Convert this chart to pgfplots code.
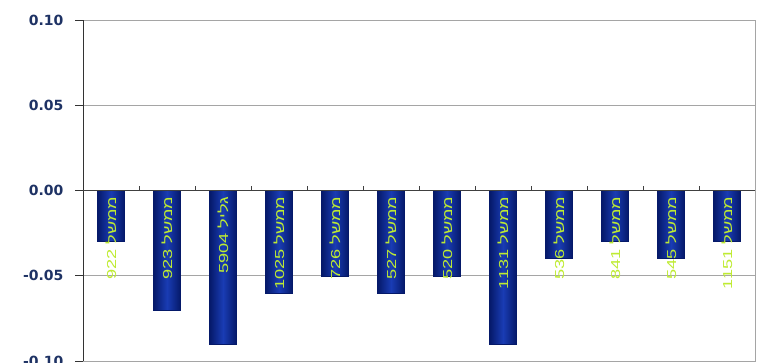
\documentclass[border=0pt]{standalone}
\usepackage{pgfplots}
\pgfplotsset{compat=1.18}
\usepackage{fontspec}
\setmainfont{DejaVu Sans}
\newfontfamily\heb[Script=Hebrew,FakeStretch=1.4]{Liberation Sans}
\TeXXeTstate=1
\definecolor{navy}{RGB}{30,50,100}
\definecolor{barmid}{RGB}{25,60,180}
\definecolor{baredge}{RGB}{5,25,105}
\definecolor{lbl}{RGB}{190,235,50}
\definecolor{gridc}{RGB}{165,165,165}
\begin{document}
\begin{tikzpicture}
\begin{axis}[
  at={(0,0)}, anchor=south west,
  scale only axis, width=672pt, height=341pt,
  xmin=-0.5, xmax=11.5, ymin=-0.1, ymax=0.1,
  ytick={-0.1,-0.05,0,0.05,0.1},
  ytick pos=left,
  scaled y ticks=false,
  /pgf/number format/assume math mode=true,
  yticklabel style={/pgf/number format/fixed,/pgf/number format/fixed zerofill,/pgf/number format/precision=2,
    font=\bfseries\fontsize{14}{14}\selectfont, text=navy, xshift=-8pt},
  xtick=\empty,
  ymajorgrids, grid style={gridc, line width=0.8pt},
  axis line style={gridc, line width=0.8pt},
  tick align=outside, ytick style={black!80, line width=0.8pt}, major tick length=8pt,
  clip=false,
  bs/.style={ybar, bar width=27pt, bar shift=0pt, draw=baredge, left color=baredge, right color=baredge, middle color=barmid},
]
\addplot[bs] coordinates {(0,-0.03)};
\addplot[bs] coordinates {(1,-0.07)};
\addplot[bs] coordinates {(2,-0.09)};
\addplot[bs] coordinates {(3,-0.06)};
\addplot[bs] coordinates {(4,-0.05)};
\addplot[bs] coordinates {(5,-0.06)};
\addplot[bs] coordinates {(6,-0.05)};
\addplot[bs] coordinates {(7,-0.09)};
\addplot[bs] coordinates {(8,-0.04)};
\addplot[bs] coordinates {(9,-0.03)};
\addplot[bs] coordinates {(10,-0.04)};
\addplot[bs] coordinates {(11,-0.03)};
\draw[black!80, line width=0.8pt] (rel axis cs:0,0) -- (rel axis cs:0,1);
\draw[black!75, line width=1pt] (axis cs:-0.5,0) -- (axis cs:11.5,0);
\pgfplotsinvokeforeach{0.5,1.5,2.5,3.5,4.5,5.5,6.5,7.5,8.5,9.5,10.5}{ \draw[black!75, line width=0.8pt] (axis cs:#1,0) -- ([yshift=4pt]axis cs:#1,0); }
\tikzset{lb/.style={rotate=90, anchor=east, inner sep=0pt, text=lbl, font=\heb\fontsize{13}{13}\selectfont}}
\node[lb] at ([yshift=-6pt]axis cs:0,0) {\beginR ממשל \beginL 922\endL\endR};
\node[lb] at ([yshift=-6pt]axis cs:1,0) {\beginR ממשל \beginL 923\endL\endR};
\node[lb] at ([yshift=-6pt]axis cs:2,0) {\beginR גליל \beginL 5904\endL\endR};
\node[lb] at ([yshift=-6pt]axis cs:3,0) {\beginR ממשל \beginL 1025\endL\endR};
\node[lb] at ([yshift=-6pt]axis cs:4,0) {\beginR ממשל \beginL 726\endL\endR};
\node[lb] at ([yshift=-6pt]axis cs:5,0) {\beginR ממשל \beginL 527\endL\endR};
\node[lb] at ([yshift=-6pt]axis cs:6,0) {\beginR ממשל \beginL 520\endL\endR};
\node[lb] at ([yshift=-6pt]axis cs:7,0) {\beginR ממשל \beginL 1131\endL\endR};
\node[lb] at ([yshift=-6pt]axis cs:8,0) {\beginR ממשל \beginL 536\endL\endR};
\node[lb] at ([yshift=-6pt]axis cs:9,0) {\beginR ממשל \beginL 841\endL\endR};
\node[lb] at ([yshift=-6pt]axis cs:10,0) {\beginR ממשל \beginL 545\endL\endR};
\node[lb] at ([yshift=-6pt]axis cs:11,0) {\beginR ממשל \beginL 1151\endL\endR};
\end{axis}
\pgfresetboundingbox
\useasboundingbox (-83pt,-2pt) rectangle (675pt,361pt);
\end{tikzpicture}
\end{document}
